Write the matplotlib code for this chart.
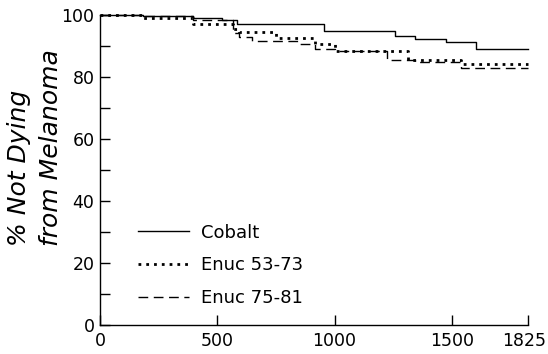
import matplotlib
matplotlib.use("Agg")
import matplotlib.pyplot as plt
import matplotlib.transforms as mtransforms
from matplotlib.ticker import MultipleLocator

# survival curves (day, % not dying from melanoma)
cobalt_days = [0, 184, 395, 520, 583, 953, 1257, 1342, 1476, 1603, 1825]
cobalt_pct = [100, 99.6, 98.9, 98.2, 97.2, 94.8, 93.2, 92.3, 91.1, 89.0, 89.0]

enuc5373_days = [0, 184, 395, 565, 593, 749, 918, 1003, 1314, 1540, 1825]
enuc5373_pct = [100, 99.0, 97.2, 95.5, 94.6, 92.4, 90.5, 88.4, 85.3, 84.2, 84.2]

enuc7581_days = [0, 184, 395, 565, 593, 650, 847, 918, 1003, 1222, 1342, 1540, 1825]
enuc7581_pct = [100, 99.6, 98.4, 94.1, 93.0, 91.7, 90.6, 89.0, 88.2, 85.5, 84.7, 82.8, 82.8]

x_ticks = [0, 500, 1000, 1500, 1825]
y_ticks = [0, 20, 40, 60, 80, 100]

plt.rcParams["font.family"] = ["DejaVu Sans"]

fig = plt.figure(figsize=(5.48, 3.54), dpi=100)
ax = fig.add_axes([0.1825, 0.082, 0.781, 0.876])

ax.step(cobalt_days, cobalt_pct, where="post", color="black", lw=1.0,
        label="Cobalt", clip_on=False)
ax.step(enuc5373_days, enuc5373_pct, where="post", color="black", lw=2.0,
        linestyle=(0, (1, 1.8)), label="Enuc 53-73", clip_on=False)
ax.step(enuc7581_days, enuc7581_pct, where="post", color="black", lw=1.0,
        linestyle=(0, (7, 4)), label="Enuc 75-81", clip_on=False)

ax.set_xlim(0, 1825)
ax.set_ylim(0, 100)
ax.set_xticks(x_ticks)
ax.set_xticklabels([str(v) for v in x_ticks])
ax.set_yticks(y_ticks)
ax.yaxis.set_minor_locator(MultipleLocator(10))

for s in ("top", "right"):
    ax.spines[s].set_visible(False)
for s in ("left", "bottom"):
    ax.spines[s].set_linewidth(1.0)

ax.tick_params(which="both", direction="in", length=7, width=1.0,
               labelsize=12.5, pad=5)
ax.tick_params(axis="y", pad=4)

# nudge the last x label so it stays inside the figure
last = ax.get_xticklabels()[-1]
last.set_transform(last.get_transform() +
                   mtransforms.ScaledTranslation(-4 / 100, 0, fig.dpi_scale_trans))

# two-line y label, both lines start at the same height
fig.text(0.035, 0.305, "% Not Dying", rotation=90, fontsize=18,
         style="italic", ha="center", va="bottom")
fig.text(0.093, 0.305, "from Melanoma", rotation=90, fontsize=18,
         style="italic", ha="center", va="bottom")

leg = ax.legend(loc="lower left", bbox_to_anchor=(0.051, 0.004), frameon=False,
                fontsize=13, handlelength=2.8, handletextpad=0.67,
                labelspacing=0.83)

fig.savefig("out.png", dpi=100)
